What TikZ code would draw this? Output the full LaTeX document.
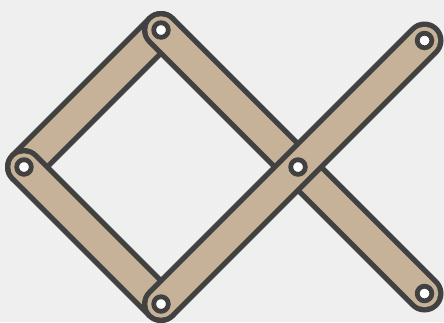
\documentclass[tikz,border=0pt]{standalone}
\definecolor{bgc}{HTML}{EFEFEF}
\definecolor{tan}{HTML}{C5B298}
\definecolor{ink}{HTML}{414141}
\tikzset{
  x=1pt,y=-1pt,
  barout/.style={draw=ink,line width=38pt,line cap=round},
  barin/.style={draw=tan,line width=27.4pt,line cap=round},
  pin/.style={circle,draw=ink,fill=white,line width=4.8pt,minimum size=14.6pt,inner sep=0pt,outer sep=0pt}
}
\newcommand{\linkbar}[2]{\draw[barout] (#1) -- (#2); \draw[barin] (#1) -- (#2);}
\begin{document}
\begin{tikzpicture}
\useasboundingbox (0,0) rectangle (444,322);
\clip (0,0) rectangle (444,322);
\fill[bgc] (0,0) rectangle (444,322);
\coordinate (A) at (24,167);
\coordinate (B) at (161,30);
\coordinate (C) at (298,167);
\coordinate (D) at (424.5,40.5);
\coordinate (E) at (161,304);
\coordinate (F) at (424.5,293.5);
\linkbar{A}{B}
\linkbar{B}{F}
\linkbar{A}{E}
\linkbar{E}{D}
\node[pin] (pa) at (A) {};
\node[pin] (pb) at (B) {};
\node[pin] (pc) at (C) {};
\node[pin] (pd) at (D) {};
\node[pin] (pe) at (E) {};
\node[pin] (pf) at (F) {};
\end{tikzpicture}
\end{document}
